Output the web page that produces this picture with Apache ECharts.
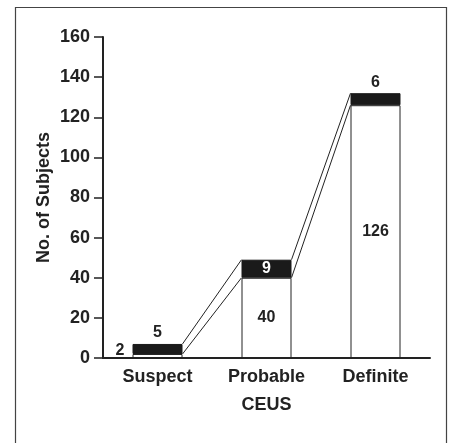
<!DOCTYPE html>
<html>
<head>
<meta charset="utf-8">
<script src="https://cdn.jsdelivr.net/npm/echarts@6/dist/echarts.min.js"></script>
<style>html,body{margin:0;padding:0;background:#fff}#c{width:450px;height:443px}</style>
</head>
<body>
<div id="c"></div>
<script>
const categories = ['Suspect', 'Probable', 'Definite'];
const lowerValues = [2, 40, 126];   // white segment
const upperValues = [5, 9, 6];      // black segment
const yTicks = { min: 0, max: 160, interval: 20 };
const xTitle = 'CEUS';
const yTitle = 'No. of Subjects';

const BAR_W = 50;
const FONT = '"Liberation Sans", Arial, sans-serif';
const totals = lowerValues.map((v, i) => v + upperValues[i]);
const connectorData = [];
for (let i = 0; i < categories.length - 1; i++) {
  connectorData.push([i, lowerValues[i], lowerValues[i + 1], totals[i], totals[i + 1]]);
}

const chart = echarts.init(document.getElementById('c'), null, { renderer: 'canvas' });
const lblBase = { show: true, fontFamily: FONT, fontWeight: 'bold', fontSize: 16, color: '#222' };

chart.setOption({
  animation: false,
  backgroundColor: '#fff',
  graphic: [{
    type: 'rect', silent: true, z: -1,
    shape: { x: 15.5, y: 7.5, width: 431, height: 460 },
    style: { fill: 'none', stroke: '#444', lineWidth: 1.2 }
  }],
  grid: { left: 103, top: 37, right: 20, bottom: 85 },
  xAxis: {
    type: 'category', data: categories,
    name: xTitle, nameLocation: 'middle', nameGap: 38,
    nameTextStyle: { fontFamily: FONT, fontWeight: 'bold', fontSize: 18, color: '#222' },
    axisLine: { lineStyle: { color: '#222', width: 2 } },
    axisTick: { show: false },
    axisLabel: { fontFamily: FONT, fontWeight: 'bold', fontSize: 18, color: '#222', margin: 10 }
  },
  yAxis: {
    type: 'value', min: yTicks.min, max: yTicks.max, interval: yTicks.interval,
    name: yTitle, nameLocation: 'middle', nameGap: 50, nameMoveOverlap: false,
    nameTextStyle: { fontFamily: FONT, fontWeight: 'bold', fontSize: 18, color: '#222' },
    axisLine: { show: true, lineStyle: { color: '#222', width: 2 } },
    axisTick: { show: true, length: 9, lineStyle: { color: '#222', width: 1.5 } },
    axisLabel: { fontFamily: FONT, fontWeight: 'bold', fontSize: 18, color: '#222', margin: 13 },
    splitLine: { show: false }
  },
  series: [
    {
      type: 'bar', stack: 's', barWidth: BAR_W,
      itemStyle: { color: '#fff', borderColor: '#222', borderWidth: 1 },
      data: lowerValues.map((v, i) => ({
        value: v,
        label: Object.assign({}, lblBase, i === 0
          ? { position: 'left', distance: 8, offset: [0, -5] }
          : { position: 'inside' })
      }))
    },
    {
      type: 'bar', stack: 's', barWidth: BAR_W,
      itemStyle: { color: '#1a1a1a', borderColor: '#1a1a1a', borderWidth: 1 },
      data: upperValues.map((v, i) => ({
        value: v,
        label: Object.assign({}, lblBase, i === 1
          ? { position: 'inside', color: '#fff' }
          : { position: 'top', distance: 3 })
      }))
    },
    {
      type: 'custom', silent: true, z: 5,
      encode: { x: 0, y: [1, 2, 3, 4] },
      data: connectorData,
      renderItem: function (params, api) {
        const i = api.value(0);
        const half = BAR_W / 2;
        const a1 = api.coord([i, api.value(1)]);
        const a2 = api.coord([i + 1, api.value(2)]);
        const b1 = api.coord([i, api.value(3)]);
        const b2 = api.coord([i + 1, api.value(4)]);
        const st = { stroke: '#222', lineWidth: 1, fill: null };
        return {
          type: 'group',
          children: [
            { type: 'line', shape: { x1: a1[0] + half, y1: a1[1], x2: a2[0] - half, y2: a2[1] }, style: st },
            { type: 'line', shape: { x1: b1[0] + half, y1: b1[1], x2: b2[0] - half, y2: b2[1] }, style: st }
          ]
        };
      }
    }
  ]
});
</script>
</body>
</html>
